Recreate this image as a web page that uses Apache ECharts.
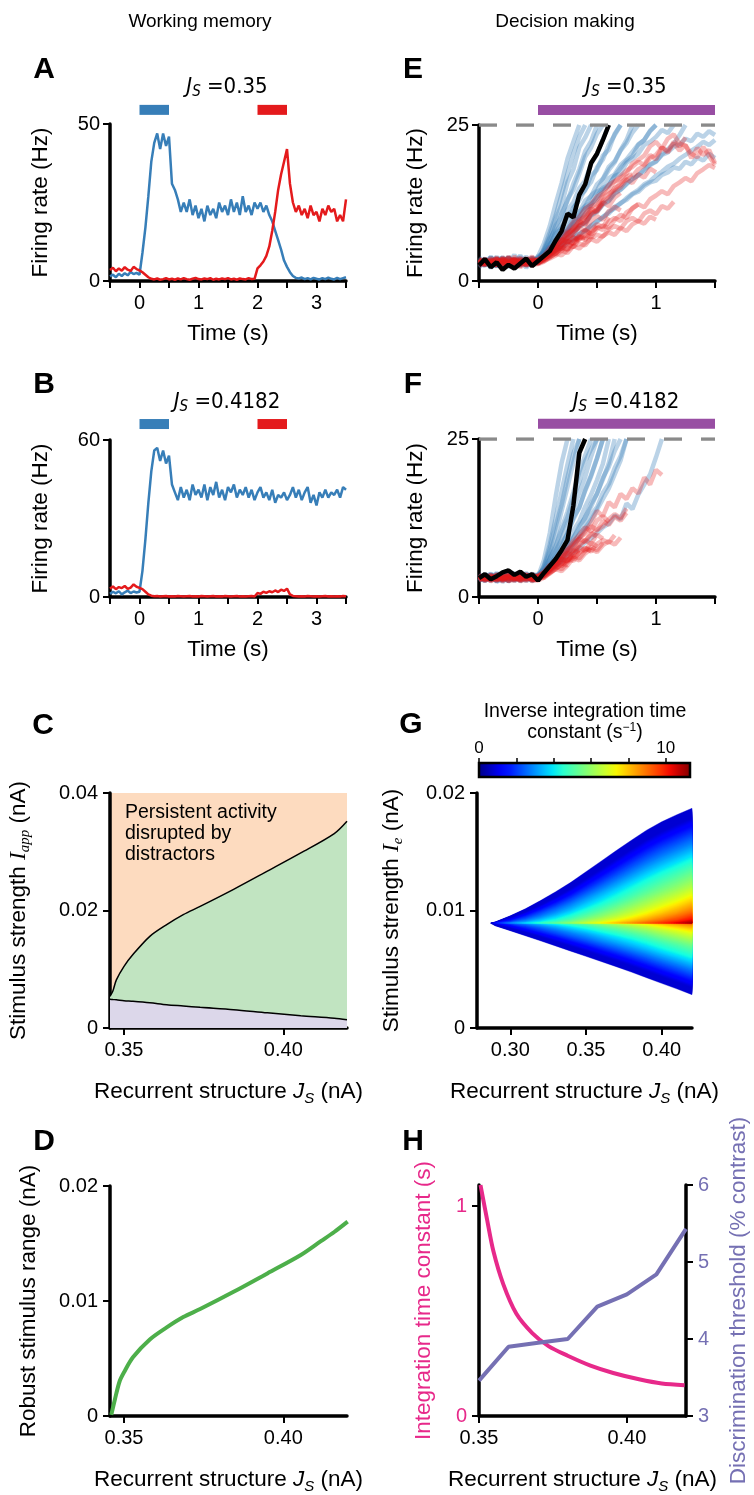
<!DOCTYPE html>
<html>
<head>
<meta charset="utf-8">
<script src="https://cdn.jsdelivr.net/npm/echarts@6.0.0/dist/echarts.min.js"></script>
<style>
html, body { margin: 0; padding: 0; background: #fff; }
#chart { width: 754px; height: 1495px; }
</style>
</head>
<body>
<div id="chart"></div>
<script>
// ---- data ----
// A/B traces, sampled every 0.05 s from -0.5 s
const tStart = -0.5, tStep = 0.05;
const aBlue = [1.5,2.0,1.2,2.3,1.6,2.5,1.8,2.9,2.2,2.6, 2.0,
  9,17,27,38,44,47,42,47,43,46, 31,29,26,22,25,22,26,21,24,20,
  23,19,24,21,23,20,25,22,24,21, 26,22,25,21,27,22,24,21,25,23,
  25,22,24,21,19,16,13,10,6.5,4.5, 2.8,1.6,1.0,0.8,1.1,0.6,0.9,0.5,1.0,0.7,
  0.5,0.9,0.6,1.1,0.7,0.5,1.0,0.6,0.9,1.2];
const aRed = [3.5,4.2,3.1,4.0,3.3,4.4,3.6,3.2,4.5,3.8, 3.4,
  2.8,2.0,1.2,0.7,0.5,0.8,0.4,0.6,0.9,0.5, 0.7,0.4,0.8,0.5,0.9,0.6,0.4,0.7,1.0,0.6,
  0.5,0.8,0.6,0.9,0.4,0.7,0.5,0.8,0.6,0.9, 0.5,0.7,0.4,0.8,0.6,0.5,0.9,0.6,0.7,4.0,
  5.0,6.2,8.0,11,16,22,29,34,38,42, 31,25,22,24,21,23,20,24,21,22,
  19,23,21,24,22,23,19,21,19,26];
const bBlue = [1.2,2.0,1.4,2.2,1.0,1.8,2.4,1.5,2.1,1.7, 2.0,
  10,22,36,48,56,57,52,56,51,54, 43,40,37,42,38,41,37,43,39,41,
  38,43,37,42,39,44,38,41,37,42, 40,43,38,41,39,42,38,41,37,40,
  42,38,40,37,41,36,39,38,40,37, 39,42,38,41,37,40,42,36,39,35,
  40,38,41,38,40,39,41,38,42,41];
const bRed = [3.2,4.0,3.0,3.8,3.4,4.2,3.1,3.6,4.8,3.9, 3.5,
  3.0,2.0,1.0,0.5,0.3,0.4,0.2,0.3,0.4,0.2, 0.3,0.2,0.4,0.3,0.2,0.3,0.4,0.2,0.3,0.2,
  0.4,0.3,0.2,0.3,0.4,0.2,0.3,0.2,0.4,0.3, 0.2,0.3,0.4,0.2,0.3,0.2,0.3,0.4,0.2,1.5,
  1.2,2.0,1.6,2.2,1.8,2.5,1.9,2.8,2.3,3.2, 1.0,0.4,0.3,0.2,0.3,0.2,0.4,0.3,0.2,0.3,
  0.2,0.3,0.4,0.2,0.3,0.2,0.3,0.2,0.4,0.3];
const stimBlue = [0, 0.5], stimRed = [2.0, 2.5], stimDecision = [0, 1.5];
const threshold = 25;

// E/F single trials, same sampling, each stops when the decision is made
const eBlack = [2.5,3.5,2.2,3.0,1.8,2.6,2.0,2.8,3.6,2.4, 3.2,4.0,4.8,6.5,8.0,10.8,10.2,13.8,15.5,18.9,20.4,22.6,25];
const eBlue = [
  [3.1,2.4,3.8,2.9,3.5,2.2,3.0,4.1,2.7,3.4, 3.0,5.2,7.8,10.5,13.9,17.2,20.4,23.1,25],
  [2.2,3.0,2.6,3.9,2.4,3.3,2.8,3.6,2.1,3.2, 3.6,4.9,6.8,8.3,10.9,12.8,15.6,17.9,20.8,22.4,25],
  [3.4,2.7,3.2,2.3,3.7,2.9,4.2,2.6,3.5,2.8, 3.3,4.2,5.6,7.9,9.1,11.4,12.6,14.9,16.1,18.8,20.3,22.7,25],
  [2.6,3.5,2.1,3.0,2.7,3.8,2.5,3.1,3.9,2.6, 4.0,4.6,5.9,6.8,8.7,9.6,11.8,12.9,14.7,15.9,18.2,19.5,21.8,23.4,25],
  [3.8,2.9,3.3,2.5,3.1,2.4,3.6,2.9,3.2,3.7, 3.1,4.1,4.9,6.2,7.0,8.6,9.3,11.1,12.0,13.7,14.5,16.3,17.8,19.0,20.9,22.1,23.8,25],
  [2.9,3.3,2.6,3.6,2.0,2.8,3.4,2.7,3.0,2.5, 3.5,3.9,4.8,5.5,6.9,7.6,8.8,9.9,10.7,12.3,13.1,14.6,15.2,16.9,18.1,19.3,20.0,21.8,22.6,24.0,25],
  [3.2,2.5,3.9,2.8,3.3,3.0,2.4,3.5,2.9,3.8, 3.0,4.4,5.1,6.0,7.4,7.9,9.2,10.1,11.6,12.2,13.5,14.9,15.4,16.8,17.2,18.9,19.6,20.4,21.8,22.3,23.1,24.2,23.7,25],
  [2.4,3.1,2.8,3.4,3.7,2.6,3.2,2.5,3.6,3.0, 3.8,4.3,4.6,5.7,6.2,7.3,7.7,8.9,9.4,10.6,11.2,12.4,12.9,14.1,14.7,15.6,16.4,16.9,17.9,18.6,19.1,20.2,20.6,21.5,21.9,22.8,22.4,23.6,23.1,24.0,23.4],
  [3.0,2.7,3.5,2.4,3.1,3.6,2.8,3.3,2.6,3.1, 3.4,3.9,4.4,5.0,5.6,6.3,6.8,7.6,8.1,8.9,9.6,10.2,11.1,11.6,12.5,13.0,13.9,14.3,15.2,15.8,16.1,17.0,17.4,18.2,18.0,19.1,18.7,19.8,19.3,20.4,19.7],
  [2.8,3.4,2.3,3.1,2.9,3.7,2.5,3.3,3.0,2.6, 3.9,6.0,8.8,12.4,15.7,19.6,22.3,25],
  [3.3,2.6,3.0,3.5,2.2,3.1,2.7,3.9,2.4,3.2, 3.1,4.7,6.4,8.9,10.2,13.1,14.6,17.2,19.9,21.4,23.6,25],
  [2.5,3.2,2.9,2.4,3.6,2.8,3.3,2.6,3.0,3.5, 2.9,4.0,5.2,6.1,7.5,8.4,10.1,11.0,12.9,13.6,15.5,16.4,18.3,19.2,21.0,22.6,25],
  [3.0,3.6,2.7,3.2,2.5,3.9,3.1,2.8,3.4,2.9, 3.3,5.0,7.1,9.9,12.2,15.8,17.9,21.4,23.0,25],
  [2.7,3.1,3.8,2.6,3.3,2.9,3.5,2.4,3.1,3.6, 3.2,4.6,5.7,7.6,8.4,10.6,11.3,13.7,14.5,16.9,17.8,20.1,21.0,23.6,25],
  [3.5,2.8,3.0,3.7,2.6,3.2,2.7,3.4,3.0,2.5, 3.7,4.1,5.4,6.0,7.6,8.1,9.8,10.4,12.0,12.6,14.3,14.8,16.5,17.1,18.6,19.5,20.7,21.9,22.6,24.1,25],
  [2.9,3.4,2.5,3.1,3.8,2.7,3.3,3.0,2.6,3.5, 2.8,3.5,4.2,5.3,5.8,7.0,7.5,8.7,9.2,10.5,11.1,12.2,12.8,14.0,14.6,15.5,16.3,17.0,17.6,18.7,19.2,20.3,21.1,22.0,23.4,25],
  [3.2,2.6,3.4,2.9,3.1,3.7,2.4,3.0,3.5,2.8, 3.1,3.6,4.0,4.9,5.3,6.1,6.6,7.5,8.0,8.8,9.5,10.3,10.8,11.9,12.4,13.3,14.0,14.6,15.5,16.0,16.9,17.5,18.3,18.8,19.6,20.2,20.9,21.5,22.3,21.8,22.6]
];
const eRed = [
  [2.6,3.3,2.9,3.8,2.4,3.1,3.5,2.7,3.2,2.5, 2.8,3.4,4.2,4.9,5.6,6.4,5.9,7.1,6.8],
  [3.4,2.8,3.1,2.5,3.6,2.9,3.3,2.2,3.0,3.7, 3.0,3.6,4.3,5.1,4.8,6.2,7.0,6.6,8.1,7.5,8.8],
  [2.9,3.5,2.4,3.2,2.7,3.9,2.6,3.4,2.8,3.1, 2.7,3.1,3.8,4.5,5.3,5.0,6.4,7.2,6.9,8.3,9.1,8.6,10.2],
  [3.1,2.6,3.7,2.9,3.3,2.4,3.0,3.6,2.5,3.2, 3.3,3.5,4.6,5.8,6.3,7.7,8.2,9.6,9.0,10.8,11.5,12.6,12.0,13.4,14.1],
  [2.7,3.4,3.0,2.5,3.8,3.1,2.6,3.3,3.5,2.9, 3.0,3.3,3.9,4.4,5.2,5.9,5.4,6.8,7.3,7.0,8.4,8.9,8.5,9.8,10.6,10.1,11.7,12.3],
  [3.5,2.8,3.2,3.6,2.5,3.0,3.4,2.7,3.1,2.6, 3.2,3.7,4.5,5.6,6.2,7.5,8.3,9.0,10.2,11.4,12.1,13.3,14.0,14.6,15.8,16.3,15.7,17.1,16.6,18.0,17.4],
  [2.4,3.0,3.5,2.8,3.3,2.6,3.9,3.0,2.5,3.4, 2.9,3.2,3.6,4.1,4.9,4.5,5.6,6.0,5.7,6.9,7.4,7.1,8.3,8.8,8.4,9.6,10.1,9.5,10.8,11.3,10.7,12.0,11.6,12.7],
  [3.0,2.6,3.3,2.9,3.6,2.4,3.1,3.7,2.8,3.2, 3.4,4.1,5.3,6.0,7.4,8.1,9.5,10.2,11.6,12.3,13.5,14.1,15.4,16.0,16.8,17.7,18.3,19.1,18.6,20.2,19.5,21.4,20.6,22.1,20.9,21.8,19.7,21.3,20.2,21.0,18.9],
  [2.8,3.2,2.5,3.6,3.0,2.7,3.4,2.6,3.3,3.9, 3.1,3.8,4.6,5.4,6.6,7.2,8.6,9.3,10.7,11.9,12.4,13.8,14.6,15.9,16.5,17.2,18.8,19.4,20.1,21.6,22.3,21.2,22.8,23.5,22.0,21.7,20.4,19.8,21.5,20.0,18.6],
  [3.3,2.7,3.0,2.5,3.4,2.9,3.6,2.8,3.1,2.4, 3.5,4.0,4.6,5.5,5.1,6.3,7.0,6.4],
  [2.5,3.1,2.8,3.4,2.6,3.7,3.0,2.4,3.3,2.9, 3.0,3.9,4.8,5.9,6.5,7.8,8.4,9.7,10.3,11.6,11.0,12.4],
  [3.6,2.9,3.1,2.6,3.3,2.8,3.5,3.0,2.7,3.2, 2.8,3.6,4.1,5.0,5.8,6.9,7.5,8.8,9.4,10.9,11.3,12.8,13.5,14.9,15.4,16.7,17.1],
  [3.1,2.5,3.3,2.8,3.6,3.0,2.6,3.2,2.9,3.5, 3.0,3.9,4.7,4.3,5.8,6.5,6.0,7.4,8.2,7.6],
  [2.8,3.4,3.0,2.6,3.2,3.7,2.9,3.3,2.5,3.0, 3.4,3.8,4.9,5.4,6.7,6.2,7.9,8.5,8.1,9.6,10.4,9.8,11.2,11.9,11.3],
  [3.4,2.7,3.1,3.5,2.9,2.6,3.3,2.8,3.6,3.1, 2.9,3.3,3.8,4.4,4.1,5.0,5.6,5.2,6.1,6.7,6.3,7.2,7.8,7.4,8.5,8.0,9.1,9.6,9.2,10.3,9.8],
  [2.6,3.2,2.9,3.5,3.0,2.7,3.4,3.1,2.8,3.3, 3.2,3.7,4.5,5.2,6.3,7.0,7.9,8.8,9.5,10.6,11.3,12.5,13.2,14.4,15.0,16.2,16.8,17.9,18.5,19.7,20.2,21.4,20.8,22.3,21.6,23.0],
  [3.0,3.5,2.8,3.1,2.6,3.4,3.2,2.9,3.6,2.7, 3.3,3.6,4.2,4.8,5.5,5.1,6.4,7.0,6.6,7.9,8.6,8.2,9.5,10.1,9.6,11.0,11.6,12.3,11.8,13.1,13.7,14.4,13.9,15.2,15.8,16.5,16.0,17.3,17.9,18.6,18.1]
];
const fBlack = [3.0,3.6,2.8,3.3,3.9,4.2,3.5,4.0,3.2,3.6, 2.6,3.8,4.9,6.0,7.4,9.0,14.5,22.8,25];
const fBlue = [
  [2.5,3.4,2.9,3.8,3.1,2.6,3.5,3.0,2.7,3.3, 3.2,5.8,10.1,15.9,21.2,25],
  [3.2,2.7,3.6,2.4,3.0,3.9,2.8,3.4,3.1,2.6, 2.9,4.9,8.3,12.4,16.7,21.0,25],
  [2.9,3.5,2.6,3.2,2.8,3.4,3.8,2.5,3.0,3.6, 3.4,4.5,6.9,9.8,13.6,17.4,21.3,25],
  [3.6,2.8,3.1,2.5,3.7,2.9,3.3,2.6,3.5,2.8, 3.0,4.2,6.1,8.2,10.9,13.5,16.6,19.8,22.4,25],
  [2.7,3.3,2.9,3.5,2.4,3.1,2.7,3.8,2.9,3.2, 3.5,4.0,5.4,7.3,9.1,11.6,13.8,16.5,19.0,22.2,25],
  [3.1,2.5,3.4,3.0,2.7,3.6,3.1,2.8,3.7,3.0, 2.8,3.7,4.9,6.5,8.0,10.1,12.3,14.2,16.8,19.1,21.9,25],
  [2.6,3.2,3.7,2.8,3.3,2.5,3.0,3.5,2.9,3.4, 3.3,3.9,4.6,5.8,7.4,8.6,10.5,12.0,14.3,16.2,18.5,21.1,25],
  [3.4,2.9,2.6,3.3,3.0,3.8,2.7,3.1,3.4,2.5, 3.1,3.5,4.4,5.2,6.7,7.6,9.4,10.8,12.7,14.3,16.4,18.6,21.2,25],
  [2.8,3.6,3.0,2.7,3.5,2.6,3.3,2.9,3.2,3.7, 2.9,3.4,4.1,4.9,5.8,6.9,8.2,9.3,10.9,12.2,13.8,15.5,17.2,19.4,21.6,25],
  [3.0,2.6,3.4,2.8,3.1,3.6,2.5,3.2,2.9,3.3, 3.2,3.6,4.3,5.0,5.6,6.4,7.1,7.8,8.6,9.3,10.1,11.0,11.6,12.9,12.3,14.8,13.9,16.2,17.8,19.4,22.1,25],
  [3.3,2.8,3.5,3.0,2.6,3.2,3.7,2.9,3.1,2.7, 3.0,4.8,7.5,11.2,14.6,18.9,22.7,25],
  [2.9,3.4,2.7,3.6,3.1,2.5,3.3,3.0,3.8,2.8, 3.6,4.4,6.0,7.9,10.4,12.6,15.7,18.2,21.5,23.4,25],
  [3.5,2.6,3.1,2.9,3.4,3.0,2.7,3.6,2.5,3.2, 2.9,3.8,5.1,6.4,8.5,10.0,12.6,14.1,17.0,19.3,22.0,25],
  [2.7,3.2,3.6,2.5,3.0,3.4,2.9,3.3,2.8,3.5, 3.1,3.6,4.5,5.6,6.6,8.2,9.3,11.3,12.5,14.8,16.3,18.9,20.6,23.1,25],
  [3.1,2.9,3.3,3.6,2.7,3.0,3.5,2.6,3.2,3.0, 3.4,3.7,4.3,5.4,6.1,7.5,8.4,10.0,11.1,13.0,14.2,16.5,17.9,20.4,22.3,25]
];
const fRed = [
  [3.1,2.6,3.4,2.9,2.5,3.3,3.0,2.7,3.5,2.8, 2.6,3.1,3.9,4.4,4.1,5.0],
  [2.7,3.3,2.5,3.0,3.6,2.8,3.2,2.6,3.0,3.4, 3.0,3.6,4.5,5.3,4.9,5.8,6.4],
  [3.4,2.9,3.1,2.6,3.2,2.5,2.8,3.6,3.1,2.9, 2.7,3.4,4.2,5.1,6.0,5.6,6.9,7.5],
  [2.8,3.5,2.7,3.3,2.9,3.1,3.6,2.8,2.6,3.2, 3.3,3.0,3.8,4.4,5.2,6.1,5.7,7.0,7.8,7.3],
  [3.2,2.6,3.0,3.4,2.7,3.5,2.9,3.1,3.3,2.5, 2.8,3.5,4.6,5.7,6.6,7.4,8.5,9.2,8.7,10.1,9.6],
  [2.9,3.3,2.8,3.6,3.1,2.6,3.4,2.9,3.2,3.6, 3.1,3.3,3.9,4.6,5.0,5.9,6.5,6.1,7.3,7.9,7.4,8.6],
  [3.5,2.7,3.2,2.9,3.4,3.0,2.6,3.3,2.8,3.1, 3.4,3.8,4.9,5.5,6.8,7.6,8.9,9.8,11.0,10.4,12.1,12.8,11.9],
  [2.6,3.1,3.5,2.8,3.0,3.3,2.9,3.6,3.2,2.7, 2.9,3.2,3.7,4.5,5.4,5.0,6.2,6.9,7.7,7.2,8.4,9.0,8.6,9.8],
  [3.0,3.4,2.7,3.1,2.8,3.6,3.2,2.5,3.0,3.3, 3.2,3.6,4.3,5.1,5.9,6.6,7.4,8.1,9.0,9.8,10.6,11.2,12.3,13.1,12.5,14.0],
  [3.3,2.8,3.0,3.5,2.6,3.2,2.9,3.4,2.7,3.1, 3.0,3.7,4.4,5.3,6.1,7.0,8.0,9.2,10.4,11.7,13.6,12.8,15.0,14.2,16.3,15.5,17.2,16.4,18.9,17.8,20.1,19.3],
  [2.8,3.3,3.0,2.6,3.5,2.9,3.2,2.7,3.4,3.1, 3.3,3.9,4.6,5.8,5.2,6.6,7.4,6.9],
  [3.4,2.9,3.2,2.7,3.0,3.6,2.6,3.1,3.3,2.8, 2.9,3.5,4.3,5.5,6.1,5.7,7.2,7.9,7.3,8.6,8.0],
  [3.0,3.5,2.6,3.2,2.9,3.4,3.1,2.8,3.6,2.7, 3.2,4.0,5.1,4.7,6.2,7.0,6.5,8.3,9.0,8.4,9.9,9.2],
  [2.7,3.1,3.4,2.9,3.3,2.6,3.0,3.5,2.8,3.2, 3.0,3.4,4.1,4.8,4.4,5.5,6.2,5.8,6.9,7.6,7.1,8.2,8.8,8.3,9.4],
  [3.2,2.8,3.0,3.4,2.7,3.3,2.9,3.1,3.6,2.6, 3.4,3.8,4.5,5.6,6.3,7.5,8.1,9.4,10.0,11.2,10.6,12.0,11.4,12.7,12.1,13.3]
];

// C: boundaries of the regions
const cX = [0.3456, 0.3465, 0.3476, 0.35, 0.3528, 0.3581, 0.3634, 0.3686, 0.3739, 0.3844, 0.395, 0.4055, 0.416, 0.42];
const cUpper = [0.0054, 0.0063, 0.0082, 0.0105, 0.0125, 0.0156, 0.0176, 0.0193, 0.0207, 0.0236, 0.0267, 0.0298, 0.0331, 0.0352];
const cLower = [0.0049, 0.00485, 0.0048, 0.00465, 0.00455, 0.0043, 0.00397, 0.00375, 0.00352, 0.00312, 0.00258, 0.0021, 0.00168, 0.00142];

// D: robust stimulus range
const dX = [0.346, 0.3471, 0.3486, 0.35, 0.3528, 0.3581, 0.3634, 0.3686, 0.3739, 0.3844, 0.395, 0.4055, 0.4118, 0.416, 0.4202];
const dY = [0.0001, 0.0014, 0.0030, 0.0038, 0.0051, 0.00665, 0.0077, 0.0086, 0.0093, 0.0108, 0.0124, 0.0140, 0.0152, 0.0160, 0.0169];

// G: edges of the wedge and inverse time constant on its midline
const gX = [0.287, 0.29, 0.30, 0.31, 0.32, 0.33, 0.34, 0.35, 0.36, 0.37, 0.38, 0.39, 0.40, 0.41, 0.42];
const gUp = [0.00893, 0.00902, 0.00955, 0.01015, 0.01085, 0.01160, 0.01240, 0.01330, 0.01420, 0.01510, 0.01598, 0.01683, 0.01755, 0.01815, 0.01870];
const gLo = [0.00891, 0.00870, 0.00828, 0.00785, 0.00742, 0.00698, 0.00654, 0.00610, 0.00566, 0.00522, 0.00476, 0.00428, 0.00380, 0.00333, 0.00284];
const gMid = 0.00893;
const gPeakUp = [0, 1.6, 2.9, 3.8, 4.6, 5.3, 6.0, 6.7, 7.3, 7.9, 8.5, 9.1, 9.7, 10.3, 11.0];
const gPeakLo = [0, 1.3, 2.4, 3.2, 3.9, 4.5, 5.1, 5.6, 6.2, 6.7, 7.2, 7.7, 8.3, 8.8, 9.3];
// share of the midline value reached at a given share of the way in from the edge
const profT = [0, 0.33, 0.53, 0.68, 0.8, 0.9, 0.97, 1];
const profV = [0, 0.28, 0.46, 0.58, 0.7, 0.81, 0.92, 1];
const cbMax = 11.3;

// H
const hX = [0.3505, 0.3527, 0.3549, 0.3582, 0.3626, 0.368, 0.3735, 0.38, 0.3877, 0.3954, 0.4041, 0.4118, 0.4195];
const hTau = [1.10, 0.938, 0.783, 0.628, 0.488, 0.395, 0.333, 0.287, 0.240, 0.205, 0.175, 0.155, 0.147];
const hJ = [0.35, 0.36, 0.37, 0.38, 0.39, 0.40, 0.41, 0.42];
const hThr = [3.46, 3.90, 3.95, 4.00, 4.42, 4.58, 4.84, 5.43];

// ---- styling ----
const FONT = 'Liberation Sans';
const NARROW = "'Liberation Sans Narrow', 'DejaVu Sans Condensed', sans-serif";
const BLUE = '#377eb8', RED = '#e41a1c', PURPLE = '#984ea3', GREEN = '#4daf4a';
const PINK = '#e7298a', LAV = '#7570b3';
const NAME_SIZE = 22.5;

const richName = {
  i: { fontSize: NAME_SIZE, fontStyle: 'italic', fontFamily: FONT, lineHeight: 28 },
  s: { fontSize: 15, fontStyle: 'italic', fontFamily: FONT, lineHeight: 15, verticalAlign: 'bottom' },
  m: { fontSize: 23.5, fontStyle: 'italic', fontFamily: 'Liberation Serif', lineHeight: 28 },
  ms: { fontSize: 15, fontStyle: 'italic', fontFamily: 'Liberation Serif', lineHeight: 15, verticalAlign: 'bottom' }
};

function jet(f) {
  f = Math.max(0, Math.min(1, f));
  const ch = pts => {
    for (let k = 1; k < pts.length; k++) {
      if (f <= pts[k][0]) {
        const [x0, y0] = pts[k - 1], [x1, y1] = pts[k];
        return y0 + (y1 - y0) * (f - x0) / (x1 - x0);
      }
    }
    return pts[pts.length - 1][1];
  };
  const r = ch([[0, 0], [0.35, 0], [0.66, 1], [0.89, 1], [1, 0.5]]);
  const g = ch([[0, 0], [0.125, 0], [0.375, 1], [0.64, 1], [0.91, 0], [1, 0]]);
  const b = ch([[0, 0.5], [0.11, 1], [0.34, 1], [0.65, 0], [1, 0]]);
  return 'rgb(' + Math.round(r * 255) + ',' + Math.round(g * 255) + ',' + Math.round(b * 255) + ')';
}

function axis(gi, o) {
  const a = {
    type: 'value', gridIndex: gi, nameLocation: 'middle',
    nameTextStyle: { color: '#000', fontSize: NAME_SIZE, fontFamily: FONT, lineHeight: 28, rich: richName },
    axisLine: { show: true, onZero: false, lineStyle: { color: '#000', width: 3.5 } },
    axisTick: { show: true, length: 7, lineStyle: { color: '#000', width: 2 } },
    axisLabel: { color: '#000', fontSize: 20, fontFamily: FONT, margin: 12 },
    splitLine: { show: false }
  };
  if (o.tick) Object.assign(a.axisTick, o.tick);
  if (o.label) Object.assign(a.axisLabel, o.label);
  if (o.nameColor) a.nameTextStyle.color = o.nameColor;
  if (o.line) Object.assign(a.axisLine, o.line);
  ['min', 'max', 'interval', 'name', 'nameGap', 'position', 'nameRotate'].forEach(k => {
    if (k in o) a[k] = o[k];
  });
  return a;
}

const toPts = vals => vals.map((v, i) => [tStart + i * tStep, v]);
const zip = (xs, ys) => xs.map((x, i) => [x, ys[i]]);

function line(gi, data, color, width, extra) {
  return Object.assign({
    type: 'line', xAxisIndex: gi, yAxisIndex: gi, data: data,
    symbol: 'none', silent: true, lineStyle: { color: color, width: width }
  }, extra || {});
}
function bar(gi, span, y, color) {
  return line(gi, [[span[0], y], [span[1], y]], color, 10, {
    clip: false, lineStyle: { color: color, width: 10, cap: 'butt' }
  });
}

const fmt2 = v => v === 0 ? '0' : v.toFixed(2);
const recName = 'Recurrent structure {i|J}{s|S} (nA)';

const grids = [
  { left: 110, top: 124, width: 236, height: 157 },   // A
  { left: 110, top: 440, width: 236, height: 157 },   // B
  { left: 479, top: 125, width: 236, height: 156 },   // E
  { left: 479, top: 439, width: 236, height: 158 },   // F
  { left: 110, top: 793, width: 237, height: 235, show: true, backgroundColor: '#fddbbf', borderWidth: 0 }, // C
  { left: 477, top: 793, width: 215, height: 235 },   // G
  { left: 110, top: 1186, width: 237, height: 236 },  // D
  { left: 479, top: 1185, width: 211, height: 237 },  // H
  { left: 479, top: 763, width: 211, height: 14 }     // colour bar
];

const timeX = (gi, max) => axis(gi, {
  min: -0.5, max: max, interval: 0.5, name: 'Time (s)', nameGap: 39,
  label: { customValues: max > 2 ? [0, 1, 2, 3] : [0, 1] }
});
const rateY = (gi, max, gap) => axis(gi, {
  min: 0, max: max, interval: max, name: 'Firing rate (Hz)', nameGap: gap, nameRotate: 90,
  label: { margin: 10 }
});

const xAxes = [
  timeX(0, 3.5), timeX(1, 3.5), timeX(2, 1.5), timeX(3, 1.5),
  axis(4, { min: 0.3456, max: 0.42, name: recName, nameGap: 50,
    tick: { customValues: [0.35, 0.40] }, label: { customValues: [0.35, 0.40], formatter: fmt2 } }),
  axis(5, { min: 0.278, max: 0.42, name: recName, nameGap: 50,
    tick: { customValues: [0.30, 0.35, 0.40] }, label: { customValues: [0.30, 0.35, 0.40], formatter: fmt2 } }),
  axis(6, { min: 0.3456, max: 0.42, name: recName, nameGap: 50,
    tick: { customValues: [0.35, 0.40] }, label: { customValues: [0.35, 0.40], formatter: fmt2 } }),
  axis(7, { min: 0.35, max: 0.42, name: recName, nameGap: 50,
    tick: { customValues: [0.35, 0.40] }, label: { customValues: [0.35, 0.40], formatter: fmt2 } }),
  axis(8, { min: 0, max: cbMax, position: 'top', line: { show: false },
    tick: { customValues: [0, 2, 4, 6, 8, 10], length: 5, lineStyle: { color: '#000', width: 1.5 } },
    label: { customValues: [0, 10], fontSize: 17, margin: 6 } })
];

const yAxes = [
  rateY(0, 50, 55), rateY(1, 60, 55), rateY(2, 25, 49), rateY(3, 25, 49),
  axis(4, { min: 0, max: 0.04, interval: 0.02, name: 'Stimulus strength {m|I}{ms|app} (nA)', nameGap: 77, nameRotate: 90,
    label: { formatter: fmt2 } }),
  axis(5, { min: 0, max: 0.02, interval: 0.01, name: 'Stimulus strength {m|I}{ms|e} (nA)', nameGap: 71, nameRotate: 90,
    label: { formatter: fmt2 } }),
  axis(6, { min: 0, max: 0.02, interval: 0.01, name: 'Robust stimulus range (nA)', nameGap: 67, nameRotate: 90,
    label: { formatter: fmt2 } }),
  axis(7, { min: 0, max: 1.1, name: 'Integration time constant (s)', nameGap: 41, nameRotate: 90, nameColor: PINK,
    tick: { customValues: [0, 1] }, label: { customValues: [0, 1], color: PINK } }),
  axis(8, { min: 0, max: 1, line: { show: false }, tick: { show: false }, label: { show: false } }),
  axis(7, { min: 3, max: 6, interval: 1, position: 'right', name: 'Discrimination threshold (% contrast)',
    nameGap: 39, nameRotate: 90, nameColor: LAV, label: { color: LAV } })
];

// ---- series ----
const series = [];
// A
series.push(line(0, toPts(aBlue), BLUE, 2.5), line(0, toPts(aRed), RED, 2.5),
  bar(0, stimBlue, 54.5, BLUE), bar(0, stimRed, 54.5, RED));
// B
series.push(line(1, toPts(bBlue), BLUE, 2.5), line(1, toPts(bRed), RED, 2.5),
  bar(1, stimBlue, 66.1, BLUE), bar(1, stimRed, 66.1, RED));
// E, F
[[2, eBlue, eRed, eBlack], [3, fBlue, fRed, fBlack]].forEach(([gi, blues, reds, black]) => {
  blues.forEach(tr => series.push(line(gi, toPts(tr), 'rgba(55,126,184,0.34)', 4.5)));
  reds.forEach(tr => series.push(line(gi, toPts(tr), 'rgba(228,26,28,0.3)', 4.5)));
  series.push(line(gi, toPts(black), '#000', 4.5));
  series.push(line(gi, [[-0.5, threshold], [1.5, threshold]], '#8a8a8a', 3.5, {
    lineStyle: { color: '#8a8a8a', width: 3.5, type: [18, 19] }
  }));
  series.push(bar(gi, stimDecision, 27.4, PURPLE));
});
// C
series.push(line(4, zip(cX, cUpper), '#000', 1.5, { smooth: 0.3, areaStyle: { color: '#c1e4c1', origin: 'start', opacity: 1 } }));
series.push(line(4, zip(cX, cLower), '#000', 1.5, { smooth: 0.3, areaStyle: { color: '#dcd7ea', origin: 'start', opacity: 1 } }));

// G wedge drawn as filled contour bands of the inverse time constant
const pInv = f => {
  for (let k = 1; k < profV.length; k++) {
    if (f <= profV[k]) return profT[k - 1] + (profT[k] - profT[k - 1]) * (f - profV[k - 1]) / (profV[k] - profV[k - 1]);
  }
  return 1;
};
function bandPoints(edge, peaks, v, api) {
  const pts = [];
  for (let i = 0; i < gX.length; i++) {
    if (peaks[i] < v || (v > 0 && peaks[i] === 0)) continue;
    if (!pts.length) {
      const xs = i > 0 ? gX[i - 1] + (v - peaks[i - 1]) / (peaks[i] - peaks[i - 1]) * (gX[i] - gX[i - 1]) : gX[0];
      pts.push(api.coord([xs, gMid]));
    }
    const t = peaks[i] > 0 ? pInv(v / peaks[i]) : 0;
    pts.push(api.coord([gX[i], edge[i] + (gMid - edge[i]) * t]));
  }
  if (!pts.length) return null;
  pts.push(api.coord([gX[gX.length - 1], gMid]));
  return pts;
}
const levelStep = cbMax / 110;
series.push({
  type: 'custom', xAxisIndex: 5, yAxisIndex: 5, silent: true,
  data: [[gX[0], gMid]],
  renderItem: function (params, api) {
    const children = [];
    for (let v = 0; v < cbMax; v += levelStep) {
      const col = jet(Math.max(v + levelStep / 2, 0.8) / cbMax);
      [[gUp, gPeakUp], [gLo, gPeakLo]].forEach(([edge, peaks]) => {
        const pts = bandPoints(edge, peaks, v, api);
        if (pts) children.push({ type: 'polygon', shape: { points: pts }, style: { fill: col, stroke: col, lineWidth: 0.4 } });
      });
    }
    return { type: 'group', children: children };
  }
});
// colour bar
const cbStops = [];
for (let k = 0; k <= 20; k++) cbStops.push({ offset: k / 20, color: jet(k / 20) });
series.push({
  type: 'custom', xAxisIndex: 8, yAxisIndex: 8, silent: true, data: [[0, 0]],
  renderItem: function (params, api) {
    const p0 = api.coord([0, 0]), p1 = api.coord([cbMax, 1]);
    return {
      type: 'rect',
      shape: { x: p0[0], y: p1[1], width: p1[0] - p0[0], height: p0[1] - p1[1] },
      style: { fill: new echarts.graphic.LinearGradient(0, 0, 1, 0, cbStops), stroke: '#000', lineWidth: 2.5 }
    };
  }
});
// D
series.push(line(6, zip(dX, dY), GREEN, 4, { smooth: 0.3 }));
// H
series.push(line(7, zip(hX, hTau), PINK, 4, { smooth: 0.3 }));
series.push(Object.assign(line(7, zip(hJ, hThr), LAV, 4), { yAxisIndex: 9 }));

// ---- texts ----
const txt = (x, y, text, extra) => ({
  type: 'text', x: x, y: y, silent: true,
  style: Object.assign({ text: text, fill: '#000', fontSize: 20, fontFamily: FONT, align: 'center', verticalAlign: 'middle' }, extra || {})
});
const letter = (x, y, s) => txt(x, y, s, { fontSize: 30, fontWeight: 'bold' });
const jsRich = {
  i: { fontSize: 22, fontStyle: 'italic', fontFamily: NARROW, lineHeight: 26 },
  s: { fontSize: 15, fontStyle: 'italic', fontFamily: NARROW, lineHeight: 15, verticalAlign: 'bottom' },
  n: { fontSize: 22, fontFamily: NARROW, lineHeight: 26 }
};
const jsTitle = (x, y, v) => txt(x, y, '{i|J}{s|S}{n| =' + v + '}', { rich: jsRich, fontFamily: NARROW, fontSize: 22 });

const graphic = [
  txt(200, 22, 'Working memory', { fontSize: 19 }), txt(565, 22, 'Decision making', { fontSize: 19 }),
  letter(44, 70, 'A'), letter(413, 70, 'E'), letter(44, 385, 'B'), letter(413, 385, 'F'),
  letter(43, 726, 'C'), letter(411, 725, 'G'), letter(44, 1142, 'D'), letter(413, 1142, 'H'),
  jsTitle(227, 87, '0.35'), jsTitle(626, 87, '0.35'), jsTitle(227, 402, '0.4182'), jsTitle(626, 402, '0.4182'),
  txt(125, 802, 'Persistent activity\ndisrupted by\ndistractors', { fontSize: 19.5, lineHeight: 21, align: 'left', verticalAlign: 'top' }),
  txt(165, 928, 'Persistent activity\nrobust against\ndistractors', { fontSize: 19.5, lineHeight: 21, align: 'left', verticalAlign: 'top' }),
  txt(585, 722, 'Inverse integration time\nconstant (s{p|\u22121})', {
    fontSize: 19.5, lineHeight: 21,
    rich: { p: { fontSize: 12, fontFamily: FONT, lineHeight: 21, verticalAlign: 'top', padding: [0, 0, 6, 0] } }
  })
];

const chart = echarts.init(document.getElementById('chart'), null, { renderer: 'canvas' });
chart.setOption({
  animation: false,
  backgroundColor: '#fff',
  textStyle: { fontFamily: FONT },
  grid: grids,
  xAxis: xAxes,
  yAxis: yAxes,
  series: series,
  graphic: graphic
});
</script>
</body>
</html>
